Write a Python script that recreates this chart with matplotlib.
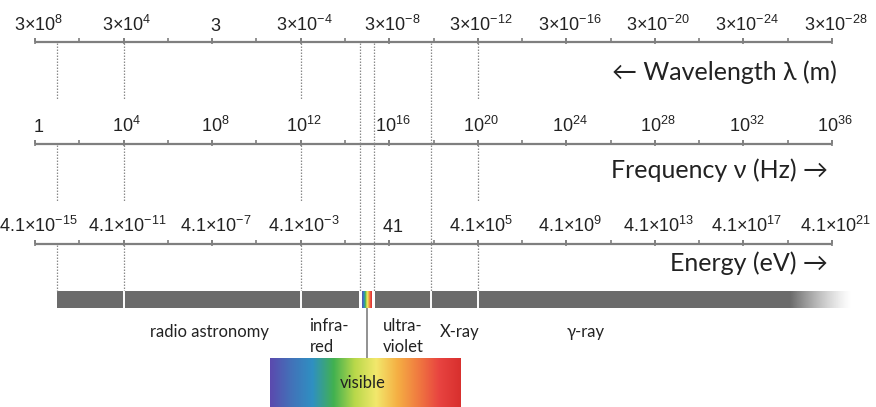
import numpy as np
import matplotlib.pyplot as plt
from matplotlib.colors import LinearSegmentedColormap

plt.rcParams['mathtext.fontset'] = 'custom'
plt.rcParams['mathtext.rm'] = 'Liberation Sans'
plt.rcParams['mathtext.it'] = 'Liberation Sans'
plt.rcParams['mathtext.bf'] = 'Liberation Sans'

# decades of frequency (log10 Hz) carrying a label, and the minor ticks
label_exp = np.arange(0, 37, 4)
tick_exp = np.arange(0, 37, 2)

wavelength_labels = ['$3×10^{8}$', '$3×10^{4}$', '$3$', '$3×10^{-4}$',
                     '$3×10^{-8}$', '$3×10^{-12}$', '$3×10^{-16}$',
                     '$3×10^{-20}$', '$3×10^{-24}$', '$3×10^{-28}$']
frequency_labels = ['$1$', '$10^{4}$', '$10^{8}$', '$10^{12}$', '$10^{16}$',
                    '$10^{20}$', '$10^{24}$', '$10^{28}$', '$10^{32}$', '$10^{36}$']
energy_labels = ['$4.1×10^{-15}$', '$4.1×10^{-11}$', '$4.1×10^{-7}$',
                 '$4.1×10^{-3}$', '$41$', '$4.1×10^{5}$', '$4.1×10^{9}$',
                 '$4.1×10^{13}$', '$4.1×10^{17}$', '$4.1×10^{21}$']

# band boundaries in log10(Hz)
radio_start = 1.0
short_marks = [1.0, 4.0, 12.0, 20.0]       # dotted guides between the scales
long_marks = [14.68, 15.31, 17.9]          # dotted guides running to the bar
separators = [4.0, 12.0, 17.9, 20.0]
visible_lo, visible_hi = 14.76, 15.21
gap_lo, gap_hi = 14.65, 15.36
solid_end, fade_end = 34.1, 36.9

band_names = ['radio astronomy', 'infra-\nred', 'ultra-\nviolet', 'X-ray', 'γ-ray']
band_x = [7.9, 12.4, 15.7, 18.3, 24.0]
band_ha = ['center', 'left', 'left', 'left', 'left']

spectrum_colors = ['#5b4aae', '#4272b9', '#2f90c2', '#42b150', '#b9d84a',
                   '#f2e86c', '#f5b044', '#f07a40', '#e84340', '#d8302e']
spectrum = LinearSegmentedColormap.from_list('spectrum', spectrum_colors)

fig = plt.figure(figsize=(8.76, 4.07), dpi=100)
ax = fig.add_axes([0, 0, 1, 1])
ax.axis('off')

line_c = '#7f7f7f'
dot_c = '#8a8a8a'
text_c = '#222222'
label_font = ['Lato', 'DejaVu Sans']

# three scales sharing the frequency axis
scales = [(42, 31, wavelength_labels), (143.5, 132, frequency_labels), (244, 232, energy_labels)]
for y_line, y_text, labels in scales:
    ax.plot([0, 36], [y_line, y_line], color=line_c, lw=1.6, solid_capstyle='butt')
    ax.vlines(tick_exp, y_line - 4, y_line, color=line_c, lw=1.2)
    ax.vlines(label_exp, y_line - 4, y_line + 2, color=line_c, lw=1.2)
    for x, s in zip(label_exp, labels):
        ax.text(x + 0.15, y_text, s, ha='center', va='baseline', fontsize=13, color=text_c)

dots = dict(color=dot_c, lw=0.9, linestyle=(0, (1.2, 1.2)))
for y0, y1 in [(43, 100), (145, 202), (245, 291)]:
    ax.vlines(short_marks, y0, y1, **dots)
ax.vlines(long_marks, 43, 291, **dots)

ax.text(36.2, 80, '← Wavelength λ (m)', ha='right', va='baseline', fontsize=18,
        family=label_font, color=text_c)
ax.text(35.8, 178, 'Frequency ν (Hz) →', ha='right', va='baseline', fontsize=18,
        family=label_font, color=text_c)
ax.text(35.8, 271, 'Energy (eV) →', ha='right', va='baseline', fontsize=18,
        family=label_font, color=text_c)

# the band bar
bar_y, bar_h = 299.5, 17
bar_c = '#6b6b6b'
ax.barh(bar_y, gap_lo - radio_start, left=radio_start, height=bar_h, color=bar_c)
ax.barh(bar_y, solid_end - gap_hi, left=gap_hi, height=bar_h, color=bar_c)
ax.vlines(separators, bar_y - bar_h / 2, bar_y + bar_h / 2, color='white', lw=1.4)

fade = np.zeros((1, 100, 4))
fade[..., :3] = 0x6b / 255
fade[0, :, 3] = np.linspace(1, 0, 100) ** 1.3
ax.imshow(fade, extent=[solid_end, fade_end, bar_y + bar_h / 2, bar_y - bar_h / 2],
          aspect='auto', interpolation='bilinear')

grad = np.linspace(0, 1, 256)[None, :]
ax.imshow(grad, cmap=spectrum, extent=[visible_lo, visible_hi, bar_y + bar_h / 2, bar_y - bar_h / 2],
          aspect='auto')

# visible close-up
vis_mid = (visible_lo + visible_hi) / 2
ax.vlines(vis_mid, bar_y + bar_h / 2, 358, color=line_c, lw=1.2)
ax.imshow(grad, cmap=spectrum, extent=[10.61, 19.2, 407, 358], aspect='auto')
ax.text(vis_mid - 0.2, 388, 'visible', ha='center', va='baseline', fontsize=12,
        family=label_font, color=text_c)

for name, x, ha in zip(band_names, band_x, band_ha):
    y = 352 if '\n' in name else 337
    ax.text(x, y, name, ha=ha, va='baseline', fontsize=12, family=label_font,
            color=text_c, linespacing=1.35)

ax.set_xlim(-1.581, 37.987)
ax.set_ylim(407, 0)
fig.savefig('out.png', dpi=100)
